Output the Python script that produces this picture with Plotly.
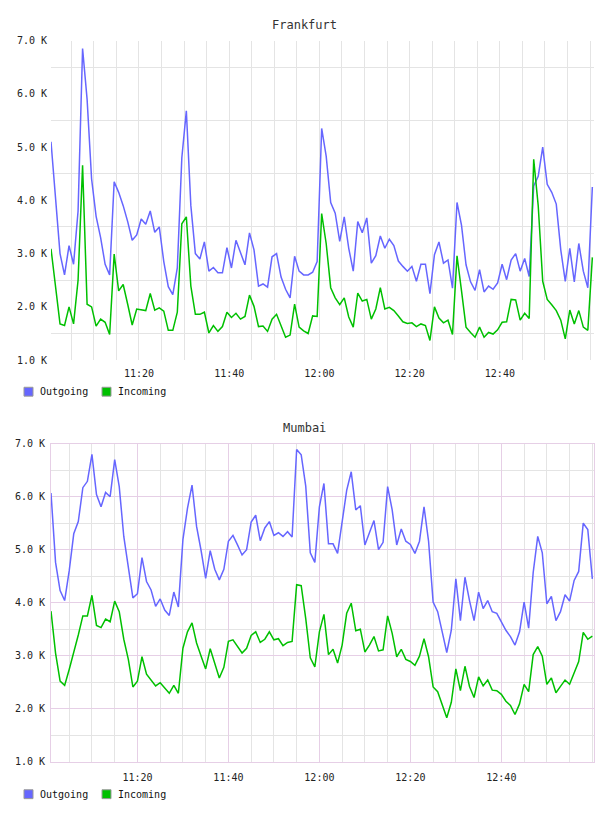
import plotly.graph_objects as go
import pandas as pd

# ---------------- data (values in thousands) ----------------
fra_times = pd.date_range("2024-01-01 11:00:30", periods=121, freq="1min")
mum_times = pd.date_range("2024-01-01 11:01:00", periods=120, freq="1min")

fra_outgoing = [
    5.1, 4.1, 3.0, 2.6, 3.15, 2.8, 3.8, 6.85, 5.9, 4.4,
    3.7, 3.3, 2.8, 2.6, 4.35, 4.15, 3.9, 3.6, 3.25, 3.35,
    3.65, 3.55, 3.8, 3.4, 3.5, 2.85, 2.38, 2.23, 2.73, 4.8,
    5.68, 3.9, 3.0, 2.9, 3.22, 2.67, 2.74, 2.64, 2.64, 3.11,
    2.73, 3.25, 3.0, 2.79, 3.39, 3.07, 2.39, 2.43, 2.37, 2.94,
    3.0, 2.56, 2.33, 2.17, 2.95, 2.67, 2.6, 2.6, 2.65, 2.85,
    5.35, 4.83, 3.96, 3.76, 3.23, 3.69, 3.1, 2.67, 3.6, 3.39,
    3.67, 2.82, 2.96, 3.33, 3.1, 3.27, 3.15, 2.86, 2.76, 2.67,
    2.76, 2.48, 2.8, 2.8, 2.25, 2.98, 3.22, 2.82, 2.88, 2.35,
    3.96, 3.53, 2.79, 2.47, 2.31, 2.7, 2.28, 2.39, 2.33, 2.45,
    2.8, 2.51, 2.88, 3.0, 2.67, 2.91, 2.57, 4.27, 4.45, 5.0,
    4.3, 4.15, 3.93, 3.07, 2.48, 3.1, 2.47, 3.19, 2.67, 2.36,
    4.25,
]
fra_incoming = [
    3.09, 2.4, 1.68, 1.65, 2.0, 1.68, 2.5, 4.66, 2.05, 2.0,
    1.64, 1.77, 1.71, 1.48, 2.99, 2.3, 2.42, 2.05, 1.66, 1.96,
    1.94, 1.93, 2.25, 1.94, 1.98, 1.92, 1.56, 1.56, 1.9, 3.56,
    3.69, 2.39, 1.86, 1.86, 1.9, 1.51, 1.65, 1.54, 1.63, 1.9,
    1.8, 1.88, 1.77, 1.82, 2.22, 2.01, 1.63, 1.64, 1.54, 1.77,
    1.86, 1.64, 1.43, 1.47, 2.05, 1.62, 1.55, 1.5, 1.83, 1.82,
    3.75, 3.19, 2.36, 2.17, 2.04, 2.17, 1.81, 1.62, 2.26, 2.11,
    2.14, 1.77, 1.96, 2.36, 1.96, 1.99, 1.93, 1.83, 1.72, 1.69,
    1.7, 1.63, 1.68, 1.65, 1.37, 2.0, 1.79, 1.7, 1.75, 1.48,
    2.96, 2.3, 1.62, 1.52, 1.43, 1.62, 1.43, 1.52, 1.49, 1.57,
    1.71, 1.72, 2.14, 2.13, 1.75, 1.88, 1.78, 4.77, 3.9, 2.48,
    2.14, 2.04, 1.93, 1.75, 1.4, 1.94, 1.68, 1.93, 1.62, 1.56,
    2.93,
]

mum_outgoing = [
    6.07, 4.76, 4.23, 4.04, 4.6, 5.3, 5.53, 6.17, 6.29, 6.8,
    6.04, 5.81, 6.08, 6.0, 6.7, 6.19, 5.25, 4.7, 4.09, 4.17,
    4.85, 4.4, 4.24, 3.93, 4.07, 3.86, 3.76, 4.2, 3.92, 5.19,
    5.78, 6.22, 5.44, 4.98, 4.46, 4.98, 4.63, 4.43, 4.63, 5.16,
    5.27, 5.09, 4.9, 5.0, 5.52, 5.65, 5.17, 5.41, 5.53, 5.27,
    5.32, 5.25, 5.34, 5.24, 6.89, 6.79, 6.2, 4.94, 4.76, 5.81,
    6.25, 5.11, 5.11, 4.93, 5.53, 6.12, 6.47, 5.75, 5.83, 5.09,
    5.32, 5.55, 5.0, 5.14, 6.19, 5.75, 5.09, 5.39, 5.16, 5.1,
    4.93, 5.16, 5.81, 5.16, 4.01, 3.83, 3.45, 3.06, 3.48, 4.45,
    3.66, 4.48, 4.04, 3.66, 4.2, 3.89, 4.04, 3.83, 3.8, 3.64,
    3.48, 3.36, 3.2, 3.45, 4.01, 3.52, 4.57, 5.25, 4.94, 3.98,
    4.12, 3.66, 3.83, 4.15, 4.03, 4.42, 4.59, 5.5, 5.38, 4.45,
]
mum_incoming = [
    3.84, 3.05, 2.52, 2.44, 2.74, 3.05, 3.39, 3.75, 3.75, 4.14,
    3.57, 3.53, 3.69, 3.64, 4.03, 3.83, 3.31, 2.93, 2.41, 2.52,
    2.98, 2.65, 2.54, 2.43, 2.49, 2.4, 2.29, 2.44, 2.29, 3.14,
    3.45, 3.62, 3.24, 2.99, 2.75, 3.13, 2.83, 2.58, 2.78, 3.27,
    3.3, 3.17, 3.05, 3.14, 3.38, 3.45, 3.25, 3.31, 3.45, 3.3,
    3.32, 3.19, 3.25, 3.27, 4.34, 4.32, 3.7, 2.96, 2.79, 3.45,
    3.78, 3.02, 3.12, 2.86, 3.2, 3.8, 3.99, 3.47, 3.5, 3.07,
    3.2, 3.36, 3.09, 3.11, 3.75, 3.42, 2.98, 3.12, 2.93, 2.89,
    2.82, 2.99, 3.32, 2.98, 2.41, 2.32, 2.09, 1.83, 2.12, 2.75,
    2.34, 2.8, 2.42, 2.21, 2.6, 2.43, 2.54, 2.35, 2.34, 2.27,
    2.14, 2.06, 1.89, 2.09, 2.46, 2.32, 3.02, 3.17, 2.99, 2.46,
    2.58, 2.3, 2.42, 2.54, 2.46, 2.69, 2.89, 3.44, 3.31, 3.37,
]

series_names = ["Outgoing", "Incoming"]
chart_titles = ["Frankfurt", "Mumbai"]
y_tick_vals = [1, 2, 3, 4, 5, 6, 7]
y_tick_text = ["%.1f K" % v for v in y_tick_vals]
y_minor_vals = [1.5, 2.5, 3.5, 4.5, 5.5, 6.5]
x_tick_vals = ["2024-01-01 11:20", "2024-01-01 11:40", "2024-01-01 12:00",
               "2024-01-01 12:20", "2024-01-01 12:40"]
x_tick_text = ["11:20", "11:40", "12:00", "12:20", "12:40"]

# ---------------- style ----------------
W, H = 608, 816
BLUE = "#6666ff"
GREEN = "#00c000"
GRID = "#e4e4e4"
PINK = "#e6cfe6"
MONO = "DejaVu Sans Mono"


def px_x(p):
    return p / W


def px_y(p):
    return 1 - p / H


fig = go.Figure()

panels = [
    dict(times=fra_times, out=fra_outgoing, inc=fra_incoming, xa="x", ya="y",
         top=36, bottom=360, title_y=20, legend_y=392,
         xrange=["2024-01-01 11:00:30", "2024-01-01 13:00:52"], framed=False),
    dict(times=mum_times, out=mum_outgoing, inc=mum_incoming, xa="x2", ya="y2",
         top=444.7, bottom=767, title_y=429, legend_y=800,
         xrange=["2024-01-01 11:01:00", "2024-01-01 13:00:22"], framed=True),
]

shapes = []
annotations = []
for k, p in enumerate(panels):
    fig.add_trace(go.Scatter(x=p["times"], y=p["out"], mode="lines", name=series_names[0],
                             line=dict(color=BLUE, width=1.5), xaxis=p["xa"], yaxis=p["ya"],
                             showlegend=False))
    fig.add_trace(go.Scatter(x=p["times"], y=p["inc"], mode="lines", name=series_names[1],
                             line=dict(color=GREEN, width=1.5), xaxis=p["xa"], yaxis=p["ya"],
                             showlegend=False))
    suffix = "" if k == 0 else "2"
    major_col = PINK if p["framed"] else GRID
    fig.update_layout(**{
        "xaxis" + suffix: dict(
            domain=[px_x(51), px_x(594)], anchor="y" + suffix, type="date",
            range=p["xrange"], tickmode="array", tickvals=x_tick_vals, ticktext=x_tick_text,
            showgrid=True, gridcolor=major_col, gridwidth=1,
            minor=dict(dtick=5 * 60 * 1000, tick0="2024-01-01 11:00", showgrid=True,
                       gridcolor=GRID, gridwidth=1),
            ticks="", zeroline=False, ticklabelstandoff=6,
            showline=p["framed"], linecolor=PINK, linewidth=1, mirror=p["framed"],
            tickfont=dict(family=MONO, size=10, color="#222"),
        ),
        "yaxis" + suffix: dict(
            domain=[px_y(p["bottom"]), px_y(p["top"])], anchor="x" + suffix,
            range=[1, 7], tickmode="array", tickvals=y_tick_vals, ticktext=y_tick_text,
            showgrid=p["framed"], gridcolor=major_col, gridwidth=1,
            minor=dict(tickmode="array", tickvals=y_minor_vals, showgrid=True,
                       gridcolor=GRID, gridwidth=1),
            ticks="", zeroline=False, ticklabelstandoff=3,
            showline=p["framed"], linecolor=PINK, linewidth=1, mirror=p["framed"],
            tickfont=dict(family=MONO, size=10, color="#222"),
        ),
    })
    # title
    annotations.append(dict(text=chart_titles[k], x=0.5, y=px_y(p["title_y"]), xref="paper",
                            yref="paper", showarrow=False, xanchor="center", yanchor="middle",
                            font=dict(family=MONO, size=12, color="#333")))
    # legend (swatch + label)
    ly = p["legend_y"]
    for name, col, sx in [(series_names[0], BLUE, 24), (series_names[1], GREEN, 102)]:
        shapes.append(dict(type="rect", xref="paper", yref="paper",
                           x0=px_x(sx), x1=px_x(sx + 9), y0=px_y(ly + 4.5), y1=px_y(ly - 4.5),
                           fillcolor=col, line=dict(color="#999", width=1)))
        annotations.append(dict(text=name, x=px_x(sx + 14), y=px_y(ly), xref="paper", yref="paper",
                                showarrow=False, xanchor="left", yanchor="middle",
                                font=dict(family=MONO, size=10, color="#111")))

fig.update_layout(
    width=W, height=H, margin=dict(l=0, r=0, t=0, b=0),
    paper_bgcolor="white", plot_bgcolor="white",
    showlegend=False, shapes=shapes, annotations=annotations,
)

fig.write_html("out.html")
